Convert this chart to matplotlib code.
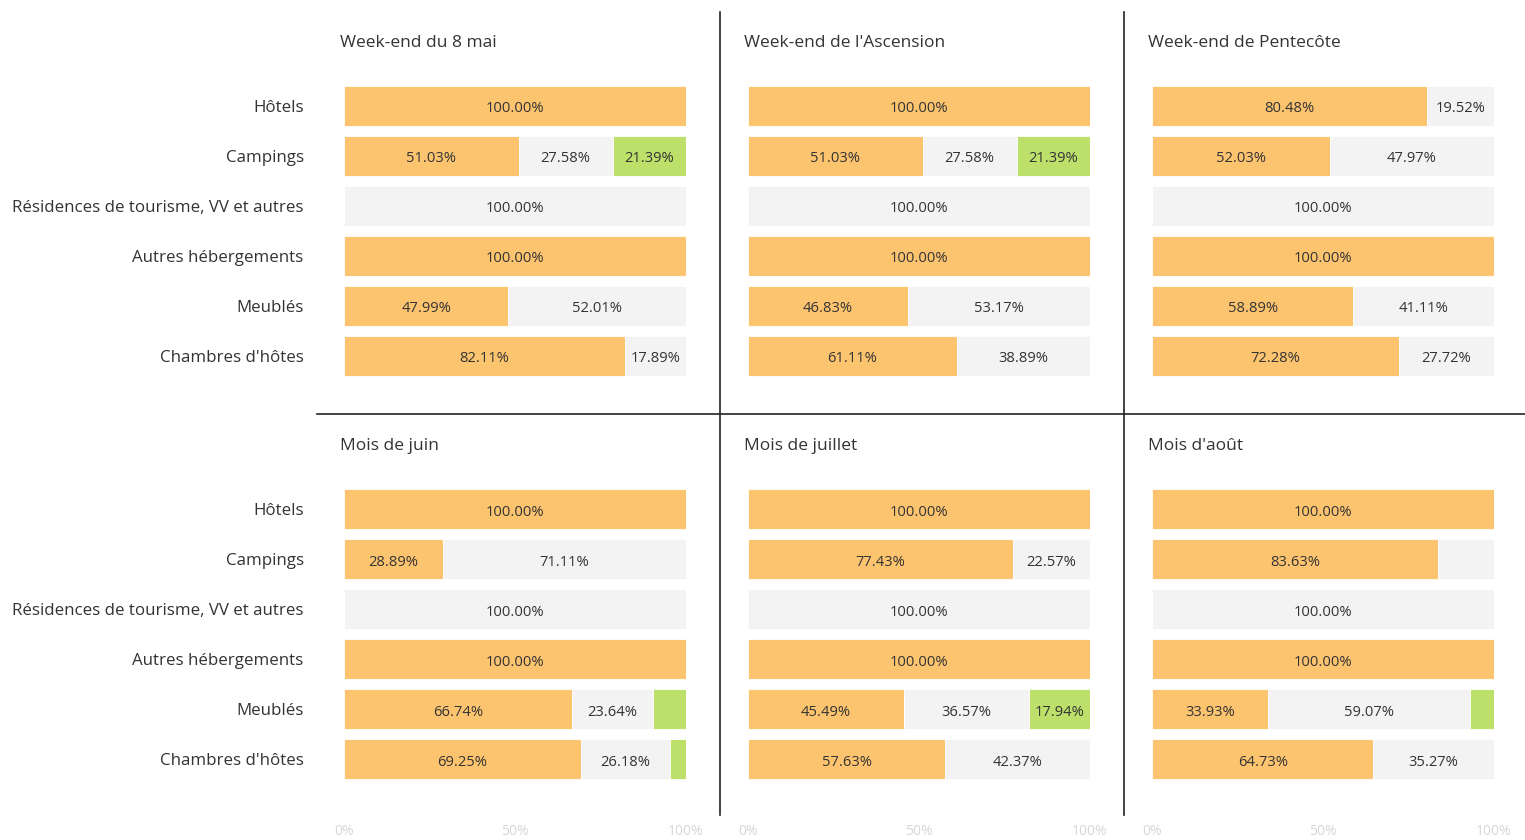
import matplotlib
import matplotlib.pyplot as plt

matplotlib.use('Agg')

plt.rcParams['font.family'] = ['Open Sans', 'DejaVu Sans']

# ===== DONNEES =====
categories = ["Hôtels", "Campings", "Résidences de tourisme, VV et autres",
              "Autres hébergements", "Meublés", "Chambres d'hôtes"]

titres = ["Week-end du 8 mai", "Week-end de l'Ascension", "Week-end de Pentecôte",
          "Mois de juin", "Mois de juillet", "Mois d'août"]

# part orange / grise / verte (en %) par catégorie
orange_mai = [100.00, 51.03, 0, 100.00, 47.99, 82.11]
gris_mai = [0, 27.58, 100.00, 0, 52.01, 17.89]
vert_mai = [0, 21.39, 0, 0, 0, 0]

orange_ascension = [100.00, 51.03, 0, 100.00, 46.83, 61.11]
gris_ascension = [0, 27.58, 100.00, 0, 53.17, 38.89]
vert_ascension = [0, 21.39, 0, 0, 0, 0]

orange_pentecote = [80.48, 52.03, 0, 100.00, 58.89, 72.28]
gris_pentecote = [19.52, 47.97, 100.00, 0, 41.11, 27.72]
vert_pentecote = [0, 0, 0, 0, 0, 0]

orange_juin = [100.00, 28.89, 0, 100.00, 66.74, 69.25]
gris_juin = [0, 71.11, 100.00, 0, 23.64, 26.18]
vert_juin = [0, 0, 0, 0, 9.62, 4.57]

orange_juillet = [100.00, 77.43, 0, 100.00, 45.49, 57.63]
gris_juillet = [0, 22.57, 100.00, 0, 36.57, 42.37]
vert_juillet = [0, 0, 0, 0, 17.94, 0]

orange_aout = [100.00, 83.63, 0, 100.00, 33.93, 64.73]
gris_aout = [0, 16.37, 100.00, 0, 59.07, 35.27]
vert_aout = [0, 0, 0, 0, 7.00, 0]

# étiquettes masquées dans l'original : (panneau, ligne, segment)
etiquettes_masquees = {(3, 4, 2), (3, 5, 2), (5, 1, 1), (5, 4, 2)}

xticks = [0, 50, 100]
xtick_labels = ["0%", "50%", "100%"]

series = [
    (orange_mai, gris_mai, vert_mai),
    (orange_ascension, gris_ascension, vert_ascension),
    (orange_pentecote, gris_pentecote, vert_pentecote),
    (orange_juin, gris_juin, vert_juin),
    (orange_juillet, gris_juillet, vert_juillet),
    (orange_aout, gris_aout, vert_aout),
]

COULEURS = ["#FDC470", "#F3F3F3", "#BDE06B"]
TEXTE = "#333333"

W, H = 1525, 840
fig = plt.figure(figsize=(W / 100, H / 100), dpi=100)

col_x = [344, 748, 1152]
row_y = [81, 484]
ax_w, ax_h = 342, 300

for p, (vals, titre) in enumerate(zip(series, titres)):
    c, r = p % 3, p // 3
    ax = fig.add_axes([col_x[c] / W, 1 - (row_y[r] + ax_h) / H, ax_w / W, ax_h / H])
    y = list(range(len(categories)))
    left = [0] * len(categories)
    for s, v in enumerate(vals):
        ax.barh(y, v, left=left, height=0.8, color=COULEURS[s], edgecolor="white", linewidth=0.6)
        for i in range(len(categories)):
            if v[i] > 0 and (p, i, s) not in etiquettes_masquees:
                ax.text(left[i] + v[i] / 2, i + 0.02, f"{v[i]:.2f}%", ha="center",
                        va="center_baseline", fontsize=10.6, color=TEXTE)
        left = [a + b for a, b in zip(left, v)]
    ax.set_xlim(0, 100)
    ax.set_ylim(len(categories) - 0.5, -0.5)
    for sp in ax.spines.values():
        sp.set_visible(False)
    ax.tick_params(length=0)
    if c == 0:
        ax.set_yticks(y)
        ax.set_yticklabels(categories, fontsize=12.2, color=TEXTE)
        ax.tick_params(axis="y", pad=29)
    else:
        ax.set_yticks([])
    if r == 1:
        ax.set_xticks(xticks)
        ax.set_xticklabels(xtick_labels, fontsize=10, color="#D6D6D6")
        ax.tick_params(axis="x", pad=29)
    else:
        ax.set_xticks([])
    fig.text((col_x[c] - 4) / W, 1 - (row_y[r] - 40) / H, titre, fontsize=12.5,
             color=TEXTE, ha="left", va="center_baseline")

# séparateurs
fig.add_artist(plt.Line2D([720 / W, 720 / W], [1 - 12 / H, 1 - 815 / H], color="#222222", lw=1.2))
fig.add_artist(plt.Line2D([1124 / W, 1124 / W], [1 - 12 / H, 1 - 815 / H], color="#222222", lw=1.2))
fig.add_artist(plt.Line2D([317 / W, 1], [1 - 414 / H, 1 - 414 / H], color="#222222", lw=1.2))

fig.savefig("out.png", dpi=100)
plt.close()
